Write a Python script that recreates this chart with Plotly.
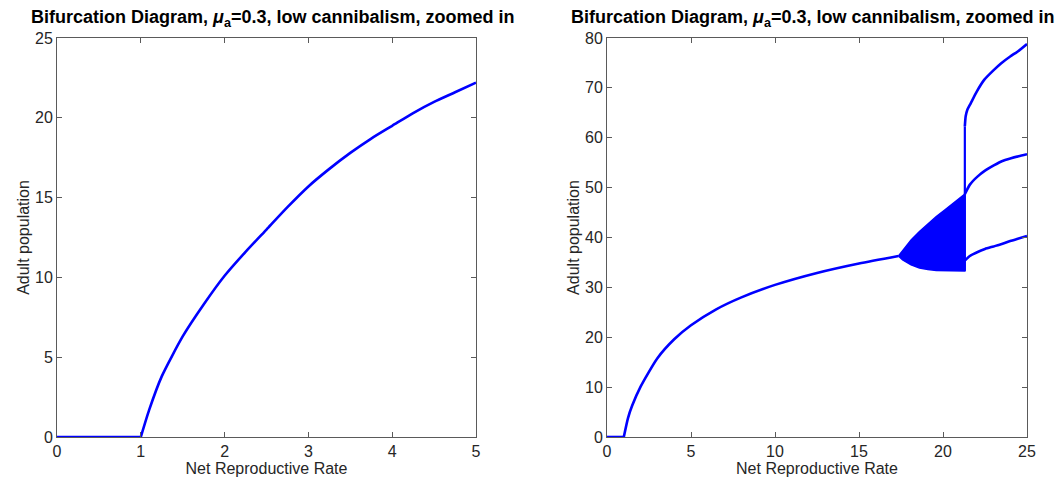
import plotly.graph_objects as go

# ---- data ----
r_left_flat = [0, 1.0]
a_left_flat = [0, 0]
r_left = [1.0, 1.1, 1.25, 1.5, 1.75, 2.0, 2.25, 2.5, 2.75, 3.0, 3.25, 3.5, 3.75, 4.0, 4.25, 4.5, 4.75, 5.0]
a_left = [0, 1.7, 3.8, 6.3, 8.3, 10.1, 11.6, 13.0, 14.4, 15.7, 16.8, 17.8, 18.7, 19.5, 20.3, 21.0, 21.6, 22.2]

r_main_flat = [0, 1.0]
a_main_flat = [0, 0]
r_main = [1.0, 1.25, 1.5, 2.0, 3.0, 4.0, 5.0, 6.5, 8.0, 10.0, 12.5, 15.0, 17.35]
a_main = [0, 3.8, 6.3, 10.1, 15.8, 19.6, 22.4, 25.6, 28.0, 30.5, 32.9, 34.8, 36.3]

r_band_up = [17.35, 17.7, 18.1, 18.6, 19.1, 19.6, 20.1, 20.6, 21.0, 21.3]
a_band_up = [36.3, 37.8, 39.5, 41.2, 42.8, 44.2, 45.5, 46.9, 48.0, 48.7]
r_band_lo = [17.35, 17.6, 18.1, 18.6, 19.1, 19.6, 20.3, 21.3]
a_band_lo = [36.3, 35.5, 34.5, 33.9, 33.6, 33.4, 33.3, 33.3]

r_jump = [21.3, 21.3]
a_jump = [33.3, 62.3]

r_top = [21.3, 21.35, 21.45, 21.65, 22.0, 22.45, 23.0, 23.45, 24.0, 24.45, 25.0]
a_top = [62.3, 64.3, 65.6, 66.9, 69.2, 71.6, 73.5, 74.9, 76.3, 77.3, 78.8]

r_mid = [21.3, 21.6, 22.05, 22.5, 23.05, 23.5, 24.05, 24.5, 25.0]
a_mid = [48.7, 50.6, 52.2, 53.4, 54.5, 55.3, 55.9, 56.3, 56.7]

r_bot = [21.3, 21.6, 22.0, 22.5, 23.0, 23.5, 24.0, 24.5, 25.0]
a_bot = [35.4, 36.3, 37.0, 37.7, 38.2, 38.7, 39.3, 39.8, 40.3]

x_ticks_left = [0, 1, 2, 3, 4, 5]
y_ticks_left = [0, 5, 10, 15, 20, 25]
x_ticks_right = [0, 5, 10, 15, 20, 25]
y_ticks_right = [0, 10, 20, 30, 40, 50, 60, 70, 80]

title_text = "<b>Bifurcation Diagram, <i>μ</i><sub>a</sub>=0.3, low cannibalism, zoomed in</b>"

BLUE = "#0000FF"
W, H = 1062, 485
FONT = "Liberation Sans, Arial, Helvetica, sans-serif"
AXC = "#262626"
LINEC = "#5a5a5a"

fig = go.Figure()
curve = dict(color=BLUE, width=2.6, shape="spline", smoothing=0.6)
flat = dict(color=BLUE, width=2.6)

fig.add_trace(go.Scatter(x=r_left_flat, y=a_left_flat, mode="lines", line=flat, xaxis="x", yaxis="y"))
fig.add_trace(go.Scatter(x=r_left, y=a_left, mode="lines", line=curve, xaxis="x", yaxis="y"))

fig.add_trace(go.Scatter(x=r_main_flat, y=a_main_flat, mode="lines", line=flat, xaxis="x2", yaxis="y2"))
fig.add_trace(go.Scatter(x=r_main, y=a_main, mode="lines", line=curve, xaxis="x2", yaxis="y2"))
fig.add_trace(go.Scatter(x=r_band_up + r_band_lo[::-1], y=a_band_up + a_band_lo[::-1],
                         mode="lines", fill="toself", fillcolor=BLUE,
                         line=dict(color=BLUE, width=1.5), xaxis="x2", yaxis="y2"))
fig.add_trace(go.Scatter(x=r_jump, y=a_jump, mode="lines", line=dict(color=BLUE, width=2.2), xaxis="x2", yaxis="y2"))
for xs, ys in [(r_top, a_top), (r_mid, a_mid), (r_bot, a_bot)]:
    fig.add_trace(go.Scatter(x=xs, y=ys, mode="lines", line=curve, xaxis="x2", yaxis="y2"))

def xd(a, b):
    return [a / W, b / W]

def yd(top, bottom):
    return [1 - bottom / H, 1 - top / H]

axis_common = dict(showline=True, linecolor=LINEC, linewidth=1, mirror="ticks", automargin=False,
                   ticks="inside", ticklen=5, tickcolor=LINEC, showgrid=False, zeroline=False,
                   tickfont=dict(family=FONT, size=16, color=AXC))
tfont = dict(family=FONT, size=16, color=AXC)

fig.update_layout(
    width=W, height=H, margin=dict(l=0, r=0, t=0, b=0),
    plot_bgcolor="white", paper_bgcolor="white", showlegend=False,
    xaxis=dict(domain=xd(57, 476), range=[0, 5], tickvals=x_ticks_left, anchor="y",
               title=dict(text="Net Reproductive Rate", font=tfont, standoff=2), **axis_common),
    yaxis=dict(domain=yd(38, 437), range=[0, 25], tickvals=y_ticks_left, anchor="x",
               title=dict(text="Adult population", font=tfont, standoff=1), **axis_common),
    xaxis2=dict(domain=xd(607, 1027), range=[0, 25], tickvals=x_ticks_right, anchor="y2",
                title=dict(text="Net Reproductive Rate", font=tfont, standoff=2), **axis_common),
    yaxis2=dict(domain=yd(38, 437), range=[0, 80], tickvals=y_ticks_right, anchor="x2",
                title=dict(text="Adult population", font=tfont, standoff=1), **axis_common),
)

for cx in [272, 812]:
    fig.add_annotation(text=title_text, x=cx / W, y=1 - 19 / H, xref="paper", yref="paper",
                       xanchor="center", yanchor="middle", showarrow=False,
                       font=dict(family=FONT, size=18, color="black"))

fig.write_html("out.html", config={"displayModeBar": False},
               post_script="document.body.style.margin='0';")
